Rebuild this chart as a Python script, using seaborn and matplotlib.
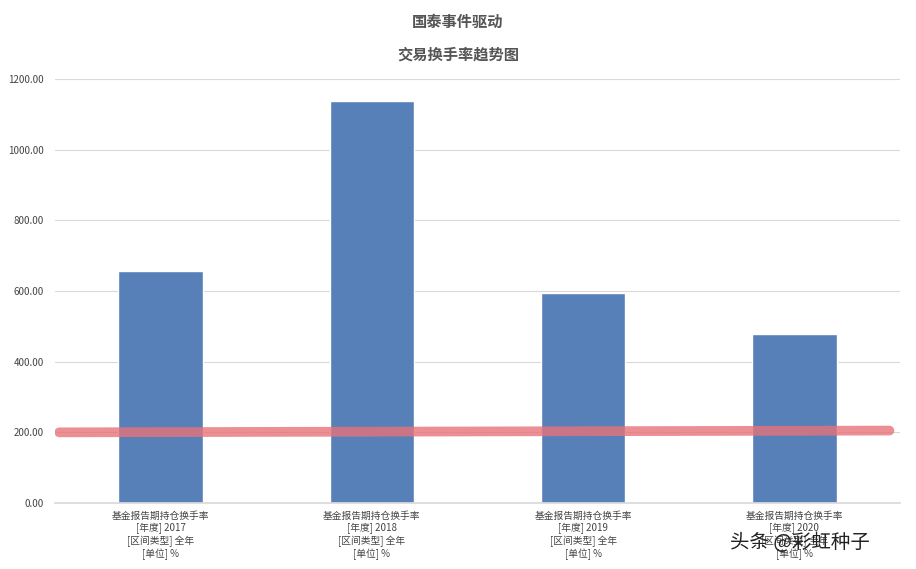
import matplotlib
matplotlib.use("Agg")
import matplotlib.pyplot as plt
import seaborn as sns
import pandas as pd

years = ["2017", "2018", "2019", "2020"]
values = [657, 1138, 594, 479]
labels = [f"基金报告期持仓换手率\n[年度] {y}\n[区间类型] 全年\n[单位] %" for y in years]
line_value = [200, 205]
yticks = [0, 200, 400, 600, 800, 1000, 1200]

sns.set_theme(style="white")
plt.rcParams['font.family'] = ['Noto Sans CJK SC', 'DejaVu Sans']

fig = plt.figure(figsize=(9.16, 5.69), dpi=100)
ax = fig.add_axes([55/916, 1-503/569, 845/916, 424/569])
df = pd.DataFrame({"label": labels, "value": values})
sns.barplot(data=df, x="label", y="value", color="#5880B8", width=0.4, ax=ax, saturation=1)
ax.set_ylim(0, 1200)
ax.set_xlim(-0.5, 3.5)
ax.set_yticks(yticks)
ax.set_yticklabels([f"{v:.2f}" for v in yticks], fontsize=7, color="#444444")
ax.tick_params(axis='x', labelsize=7, colors="#444444", length=0, pad=6)
ax.tick_params(axis='y', length=0, pad=8)
ax.grid(axis='y', color="#D9D9D9", linewidth=0.8)
ax.set_axisbelow(True)
for s in ["top", "right", "left"]:
    ax.spines[s].set_visible(False)
ax.spines["bottom"].set_color("#D9D9D9")
ax.set_xlabel("")
ax.set_ylabel("")
ax.plot([-0.48, 3.45], line_value, color="#E8737A", alpha=0.8, linewidth=7, solid_capstyle="round")
fig.text(0.5, 1-22/569, "国泰事件驱动", ha="center", va="center", fontsize=11, fontweight="bold", color="#555555")
fig.text(0.5, 1-55/569, "交易换手率趋势图", ha="center", va="center", fontsize=11, fontweight="bold", color="#555555")
fig.text(730/916, 1-542/569, "头条 @彩虹种子", ha="left", va="center", fontsize=14, color="#222222")
fig.savefig("out.png", dpi=100)
